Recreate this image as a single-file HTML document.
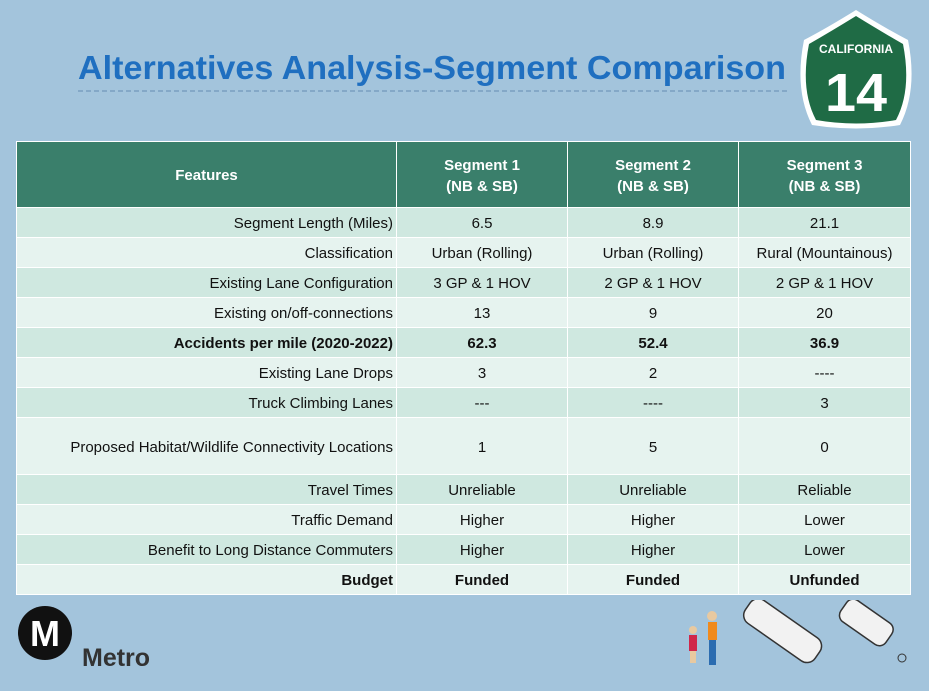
<!DOCTYPE html>
<html><head><meta charset="utf-8">
<style>
body{margin:0;width:929px;height:691px;background:#a3c4dc;position:relative;overflow:hidden;font-family:"Liberation Sans",sans-serif;}
.t{position:absolute;left:16px;top:141px;border-collapse:collapse;}
.t td,.t th{padding:0;border:1.5px solid #fff;font-size:15px;color:#111;}
.t th{background:#3a7f6b;color:#fff;font-weight:bold;height:63px;padding-top:2px;line-height:21px;}
.t td{height:27px;padding-top:2px;text-align:center;}
.t td.f{text-align:right;padding-right:3px;}
.d td{background:#cfe8e0}.l td{background:#e6f3ef}
.b td{font-weight:bold}
</style></head><body>
<svg style="position:absolute;left:0;top:0" width="929" height="140">
<text x="78" y="79" textLength="708" lengthAdjust="spacingAndGlyphs" font-family="Liberation Sans" font-weight="bold" font-size="33" fill="#1f6fc0">Alternatives Analysis-Segment Comparison</text>
<line x1="78" y1="91" x2="790" y2="91" stroke="#7a9fc0" stroke-width="1.5" stroke-dasharray="5,3"/>
<g>
<path d="M856 10 Q885 28 908 40 Q918 90 900 125 Q856 132 812 125 Q794 90 804 40 Q827 28 856 10Z" fill="#fff"/>
<path d="M856 16 Q882 32 903 44 Q912 90 896 120 Q856 127 816 120 Q800 90 809 44 Q830 32 856 16Z" fill="#1f6b45"/>
<text x="856" y="53" text-anchor="middle" font-size="12" font-weight="bold" fill="#fff" font-family="Liberation Sans">CALIFORNIA</text>
<text x="856" y="111" text-anchor="middle" font-size="54" font-weight="bold" fill="#fff" font-family="Liberation Sans" textLength="62" lengthAdjust="spacingAndGlyphs">14</text>
</g>
</svg>
<table class="t">
<tr><th style="width:379px">Features</th><th style="width:170px">Segment 1<br>(NB &amp; SB)</th><th style="width:170px">Segment 2<br>(NB &amp; SB)</th><th style="width:171px">Segment 3<br>(NB &amp; SB)</th></tr>
<tr class="d"><td class="f">Segment Length (Miles)</td><td>6.5</td><td>8.9</td><td>21.1</td></tr>
<tr class="l"><td class="f">Classification</td><td>Urban (Rolling)</td><td>Urban (Rolling)</td><td>Rural (Mountainous)</td></tr>
<tr class="d"><td class="f">Existing Lane Configuration</td><td>3 GP &amp; 1 HOV</td><td>2 GP &amp; 1 HOV</td><td>2 GP &amp; 1 HOV</td></tr>
<tr class="l"><td class="f">Existing on/off-connections</td><td>13</td><td>9</td><td>20</td></tr>
<tr class="d b"><td class="f">Accidents per mile (2020-2022)</td><td>62.3</td><td>52.4</td><td>36.9</td></tr>
<tr class="l"><td class="f">Existing Lane Drops</td><td>3</td><td>2</td><td>----</td></tr>
<tr class="d"><td class="f">Truck Climbing Lanes</td><td>---</td><td>----</td><td>3</td></tr>
<tr class="l"><td class="f" style="height:54px">Proposed Habitat/Wildlife Connectivity Locations</td><td>1</td><td>5</td><td>0</td></tr>
<tr class="d"><td class="f">Travel Times</td><td>Unreliable</td><td>Unreliable</td><td>Reliable</td></tr>
<tr class="l"><td class="f">Traffic Demand</td><td>Higher</td><td>Higher</td><td>Lower</td></tr>
<tr class="d"><td class="f">Benefit to Long Distance Commuters</td><td>Higher</td><td>Higher</td><td>Lower</td></tr>
<tr class="l b"><td class="f">Budget</td><td>Funded</td><td>Funded</td><td>Unfunded</td></tr>
</table>
<svg style="position:absolute;left:0;top:600px" width="200" height="80">
<circle cx="45" cy="33" r="27" fill="#111"/>
<text x="45" y="46" text-anchor="middle" font-size="36" font-weight="bold" fill="#fff" font-family="Liberation Sans">M</text>
<text x="82" y="66" font-size="25" font-weight="bold" fill="#333" font-family="Liberation Sans">Metro</text>
</svg>
<svg style="position:absolute;left:680px;top:600px" width="240" height="80">
<circle cx="32" cy="16" r="5" fill="#e8c9a0"/><rect x="28" y="22" width="9" height="18" fill="#f08a1c"/><rect x="29" y="40" width="7" height="25" fill="#2b6cb0"/>
<circle cx="13" cy="30" r="4" fill="#e8c9a0"/><rect x="9" y="35" width="8" height="16" fill="#d0264a"/><rect x="10" y="51" width="6" height="12" fill="#e8c9a0"/>
<g transform="rotate(35 100 30)"><rect x="60" y="15" width="85" height="28" rx="10" fill="#f2f2f2" stroke="#333" stroke-width="1.5"/></g>
<g transform="rotate(35 190 25)"><rect x="158" y="12" width="55" height="26" rx="8" fill="#f2f2f2" stroke="#333" stroke-width="1.5"/></g>
<circle cx="222" cy="58" r="4" fill="none" stroke="#333"/>
</svg>
</body></html>
